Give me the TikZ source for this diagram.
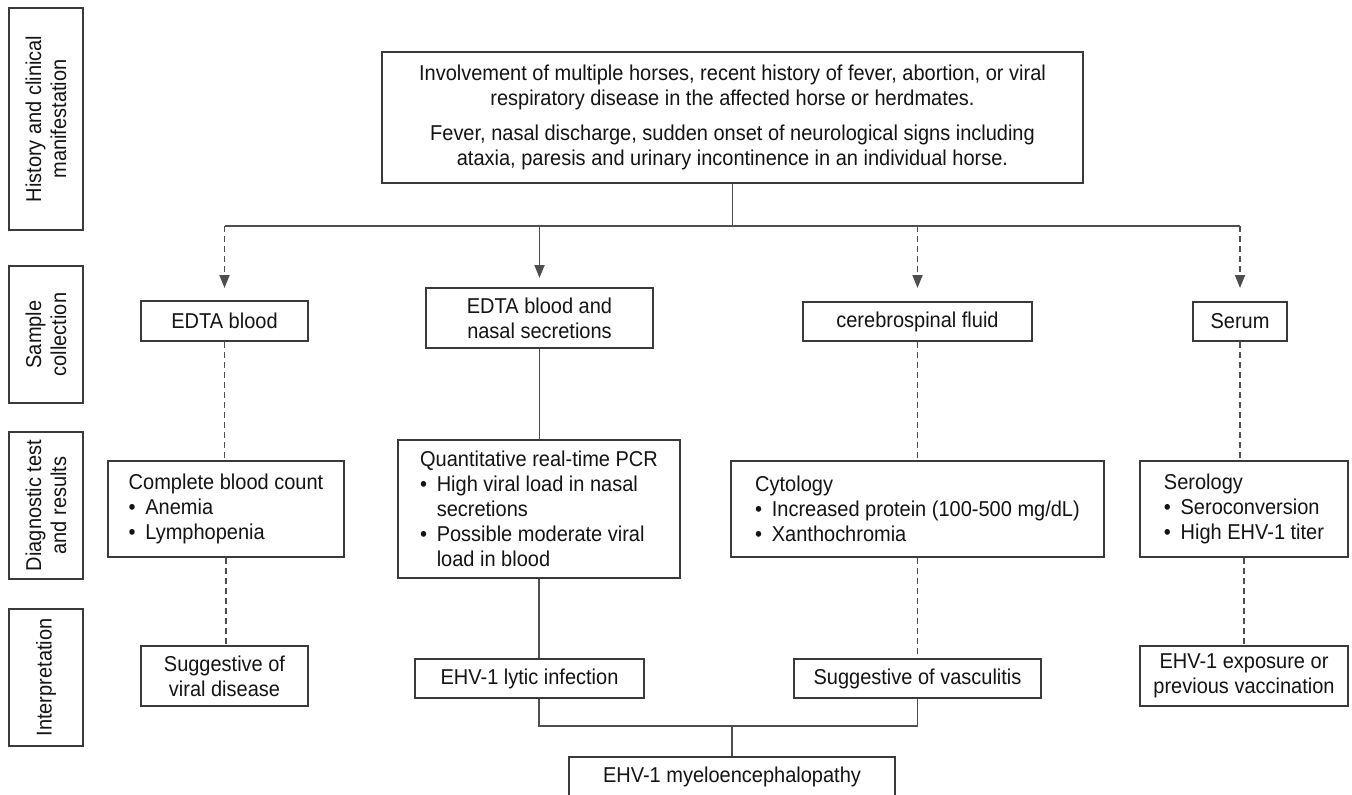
\documentclass[tikz,border=0pt]{standalone}
\usepackage{fontspec}
\setmainfont{Liberation Sans}[FakeStretch=0.93]
\usetikzlibrary{arrows.meta}
\definecolor{boxgray}{RGB}{58,58,58}
\definecolor{linegray}{RGB}{78,78,78}
\definecolor{inkgray}{RGB}{20,20,20}
\newcommand{\bul}{\textbullet\hspace{0.45em}}
\newcommand{\hng}{\phantom{\textbullet\hspace{0.45em}}}

\begin{document}
\begin{tikzpicture}[
  x=1pt, y=-1pt,
  >={Triangle[length=13pt, width=10pt]},
  box/.style={
    rectangle, draw=boxgray, fill=white,
    line width=2pt, inner sep=0pt,
    text=inkgray, font=\fontsize{21.5}{25}\selectfont,
    align=center
  },
  listbox/.style={box, align=left},
  sidebox/.style={box, rotate=90, minimum height=74pt},
  link/.style={draw=linegray, line width=1.8pt},
  dlink/.style={link, dash pattern=on 6pt off 4pt}
]
  \useasboundingbox (0,0) rectangle (1352,795);
  \clip (0,0) rectangle (1352,795);

  % row labels
  \node[sidebox, minimum width=222pt] (rowhist) at (46,119)   {History and clinical\\manifestation};
  \node[sidebox, minimum width=137pt] (rowsamp) at (46,334.5) {Sample\\collection};
  \node[sidebox, minimum width=147pt] (rowdiag) at (46,505.5) {Diagnostic test\\and results};
  \node[sidebox, minimum width=137pt] (rowint)  at (46,677.5) {Interpretation};

  % history
  \node[box, minimum width=701pt, minimum height=131pt] (clin) at (732.5,117.5)
    {Involvement of multiple horses, recent history of fever, abortion, or viral\\
     respiratory disease in the affected horse or herdmates.\\[10pt]
     Fever, nasal discharge, sudden onset of neurological signs including\\
     ataxia, paresis and urinary incontinence in an individual horse.};

  % samples
  \node[box, minimum width=167pt, minimum height=40pt] (edta)  at (224.5,321)   {EDTA blood};
  \node[box, minimum width=227pt, minimum height=60pt] (nasal) at (539.5,318)   {EDTA blood and\\nasal secretions};
  \node[box, minimum width=229pt, minimum height=39pt] (csf)   at (917.5,321.5) {cerebrospinal fluid};
  \node[box, minimum width=94pt,  minimum height=39pt] (serum) at (1240,321.5)  {Serum};

  % tests
  \node[listbox, minimum width=236pt, minimum height=96pt]  (cbc)  at (226,509)    {Complete blood count\\\bul Anemia\\\bul Lymphopenia};
  \node[listbox, minimum width=282pt, minimum height=138pt] (pcr)  at (539,509)    {Quantitative real-time PCR\\\bul High viral load in nasal\\\hng secretions\\\bul Possible moderate viral\\\hng load in blood};
  \node[listbox, minimum width=373pt, minimum height=96pt]  (cyto) at (917.5,509)  {Cytology\\\bul Increased protein (100-500 mg/dL)\\\bul Xanthochromia};
  \node[listbox, minimum width=208pt, minimum height=96pt]  (sero) at (1244,509)   {Serology\\\bul Seroconversion\\\bul High EHV-1 titer};

  % interpretation
  \node[box, minimum width=167pt, minimum height=60pt] (viral) at (224.5,676)   {Suggestive of\\viral disease};
  \node[box, minimum width=229pt, minimum height=39pt] (lytic) at (529.5,678.5) {EHV-1 lytic infection};
  \node[box, minimum width=247pt, minimum height=39pt] (vasc)  at (917.5,678.5) {Suggestive of vasculitis};
  \node[box, minimum width=208pt, minimum height=60pt] (expo)  at (1244,676)    {EHV-1 exposure or\\previous vaccination};
  \node[box, minimum width=326pt, minimum height=40pt] (myelo) at (732,777)     {EHV-1 myeloencephalopathy};

  \coordinate (bus)  at (732.5,226);
  \coordinate (join) at (728,726);

  \draw[link] (clin.south) -- (bus);
  \draw[link] (edta.north |- bus) -- (serum.north |- bus);
  \draw[dlink, ->, shorten >=12pt] (edta.north |- bus)  -- (edta.north);
  \draw[link,  ->, shorten >=9pt]  (nasal.north |- bus) -- (nasal.north);
  \draw[dlink, ->, shorten >=13pt] (csf.north |- bus)   -- (csf.north);
  \draw[dlink, ->, shorten >=13pt] (serum.north |- bus) -- (serum.north);

  \draw[dlink] (edta.south)  -- (edta.south |- cbc.north);
  \draw[link]  (nasal.south) -- (nasal.south |- pcr.north);
  \draw[dlink] (csf.south)   -- (csf.south |- cyto.north);
  \draw[dlink] (serum.south) -- (serum.south |- sero.north);

  \draw[dlink] (cbc.south)  -- (cbc.south |- viral.north);
  \draw[link]  (pcr.south)  -- (pcr.south |- lytic.north);
  \draw[dlink] (cyto.south) -- (cyto.south |- vasc.north);
  \draw[dlink] (sero.south) -- (sero.south |- expo.north);

  \draw[link] (pcr.south |- lytic.south) |- (vasc.south |- join) -- (vasc.south);
  \draw[link] (myelo.north |- join) -- (myelo.north);
\end{tikzpicture}
\end{document}
